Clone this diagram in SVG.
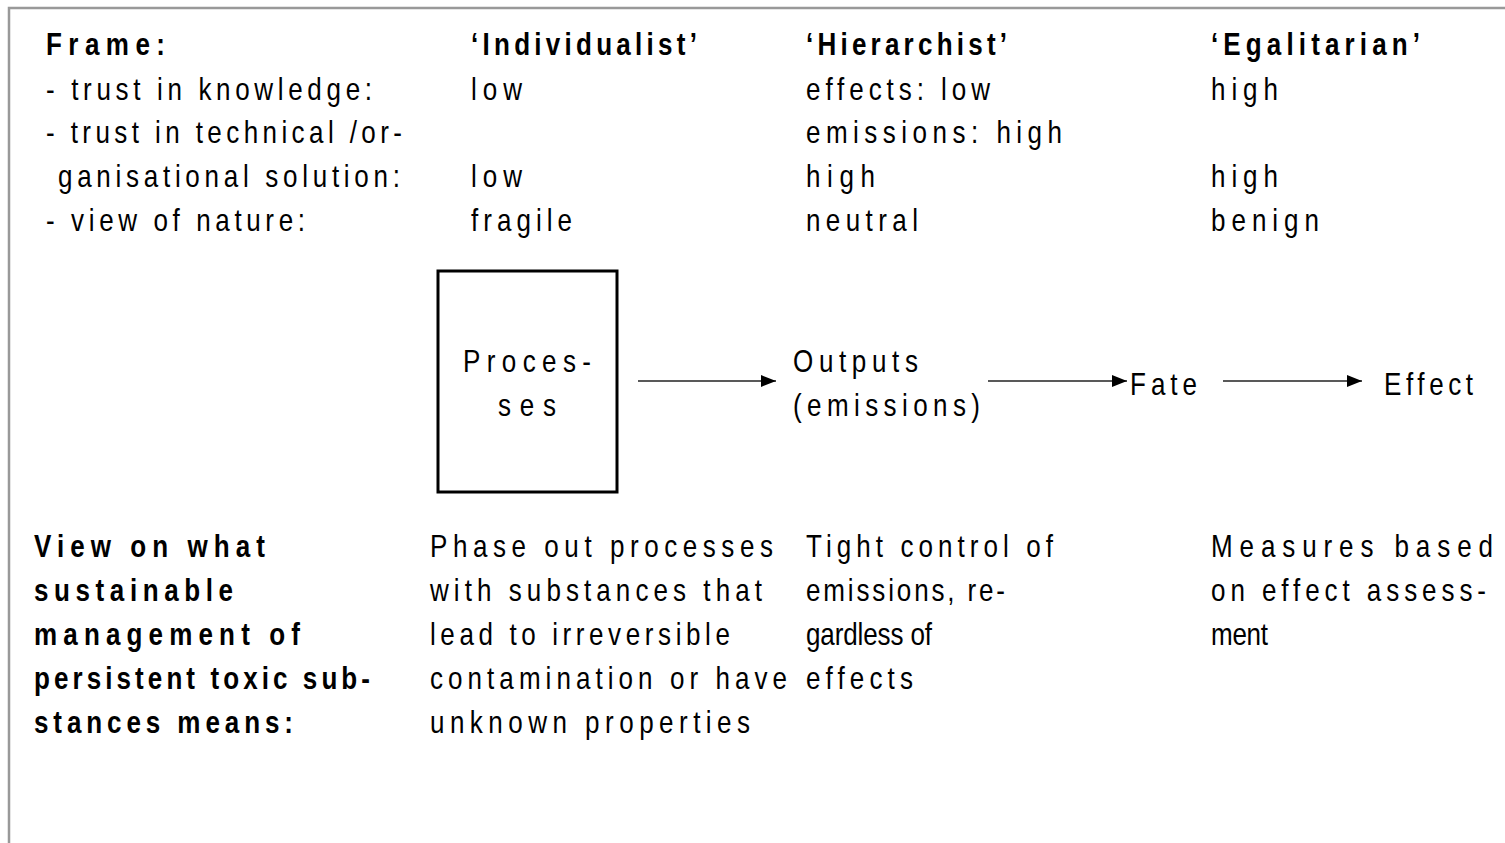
<svg xmlns="http://www.w3.org/2000/svg" width="1505" height="843" viewBox="0 0 1505 843">
<style>
text{font-family:"Liberation Sans",Arial,sans-serif;font-size:31px;fill:#000}
.b{font-weight:bold}
.conn line{stroke:#222;stroke-width:1.6}
</style>
<defs>
<marker id="ah" markerWidth="16" markerHeight="12" refX="15" refY="6" orient="auto" markerUnits="userSpaceOnUse">
<path d="M0,0 L15,6 L0,12 Z" fill="#000"/>
</marker>
</defs>
<rect width="1505" height="843" fill="#fff"/>
<path d="M9,843 V8 H1505" fill="none" stroke="#999" stroke-width="2.5"/>
<g id="frame-labels">
<g transform="translate(46,0) scale(0.84,1)">
<text class="b" x="0" y="55" textLength="141.7" lengthAdjust="spacing">Frame:</text>
<text x="0" y="100" textLength="388.1" lengthAdjust="spacing">- trust in knowledge:</text>
<text x="0" y="143" textLength="423.8" lengthAdjust="spacing">- trust in technical /or-</text>
<text x="0" y="231" textLength="308.3" lengthAdjust="spacing">- view of nature:</text>
</g>
<g transform="translate(58,0) scale(0.84,1)">
<text x="0" y="187" textLength="407.1" lengthAdjust="spacing">ganisational solution:</text>
</g>
</g>
<g id="col-individualist" transform="translate(471,0) scale(0.84,1)">
<text class="b" x="0" y="55" textLength="269" lengthAdjust="spacing">‘Individualist’</text>
<text x="0" y="100" textLength="60.7" lengthAdjust="spacing">low</text>
<text x="0" y="187" textLength="60.7" lengthAdjust="spacing">low</text>
<text x="0" y="231" textLength="120.2" lengthAdjust="spacing">fragile</text>
</g>
<g id="col-hierarchist" transform="translate(806,0) scale(0.84,1)">
<text class="b" x="0" y="55" textLength="239.3" lengthAdjust="spacing">‘Hierarchist’</text>
<text x="0" y="100" textLength="219" lengthAdjust="spacing">effects: low</text>
<text x="0" y="143" textLength="304.8" lengthAdjust="spacing">emissions: high</text>
<text x="0" y="187" textLength="82.1" lengthAdjust="spacing">high</text>
<text x="0" y="231" textLength="133.3" lengthAdjust="spacing">neutral</text>
</g>
<g id="col-egalitarian" transform="translate(1211,0) scale(0.84,1)">
<text class="b" x="0" y="55" textLength="248.8" lengthAdjust="spacing">‘Egalitarian’</text>
<text x="0" y="100" textLength="79.8" lengthAdjust="spacing">high</text>
<text x="0" y="187" textLength="79.8" lengthAdjust="spacing">high</text>
<text x="0" y="231" textLength="128.6" lengthAdjust="spacing">benign</text>
</g>
<g id="node-processes">
<rect x="438" y="271" width="179" height="221" fill="#fff" stroke="#000" stroke-width="3"/>
<text transform="translate(463,0) scale(0.84,1)" x="0" y="372" textLength="152.4" lengthAdjust="spacing">Proces-</text>
<text transform="translate(498,0) scale(0.84,1)" x="0" y="416" textLength="69" lengthAdjust="spacing">ses</text>
</g>
<g id="node-outputs" transform="translate(793,0) scale(0.84,1)">
<text x="0" y="372" textLength="148.8" lengthAdjust="spacing">Outputs</text>
<text x="0" y="416" textLength="222.6" lengthAdjust="spacing">(emissions)</text>
</g>
<g id="node-fate" transform="translate(1130,0) scale(0.84,1)">
<text x="0" y="395" textLength="79.8" lengthAdjust="spacing">Fate</text>
</g>
<g id="node-effect" transform="translate(1384,0) scale(0.84,1)">
<text x="0" y="395" textLength="106" lengthAdjust="spacing">Effect</text>
</g>
<g id="connectors" class="conn">
<line x1="638" y1="381" x2="776" y2="381" marker-end="url(#ah)"/>
<line x1="988" y1="381" x2="1127" y2="381" marker-end="url(#ah)"/>
<line x1="1223" y1="381" x2="1362" y2="381" marker-end="url(#ah)"/>
</g>
<g id="view-label" transform="translate(34,0) scale(0.84,1)">
<text class="b" x="0" y="557" textLength="275" lengthAdjust="spacing">View on what</text>
<text class="b" x="0" y="601" textLength="236.9" lengthAdjust="spacing">sustainable</text>
<text class="b" x="0" y="645" textLength="316.7" lengthAdjust="spacing">management of</text>
<text class="b" x="0" y="689" textLength="400" lengthAdjust="spacing">persistent toxic sub-</text>
<text class="b" x="0" y="733" textLength="308.3" lengthAdjust="spacing">stances means:</text>
</g>
<g id="view-individualist" transform="translate(430,0) scale(0.84,1)">
<text x="0" y="557" textLength="408.3" lengthAdjust="spacing">Phase out processes</text>
<text x="0" y="601" textLength="395.2" lengthAdjust="spacing">with substances that</text>
<text x="0" y="645" textLength="357.1" lengthAdjust="spacing">lead to irreversible</text>
<text x="0" y="689" textLength="425" lengthAdjust="spacing">contamination or have</text>
<text x="0" y="733" textLength="381" lengthAdjust="spacing">unknown properties</text>
</g>
<g id="view-hierarchist" transform="translate(806,0) scale(0.84,1)">
<text x="0" y="557" textLength="294" lengthAdjust="spacing">Tight control of</text>
<text x="0" y="601" textLength="236.9" lengthAdjust="spacing">emissions, re-</text>
<text x="0" y="645" textLength="150" lengthAdjust="spacing">gardless of</text>
<text x="0" y="689" textLength="127.4" lengthAdjust="spacing">effects</text>
</g>
<g id="view-egalitarian" transform="translate(1211,0) scale(0.84,1)">
<text x="0" y="557" textLength="335.7" lengthAdjust="spacing">Measures  based</text>
<text x="0" y="601" textLength="327.4" lengthAdjust="spacing">on effect assess-</text>
<text x="0" y="645" textLength="67.9" lengthAdjust="spacing">ment</text>
</g>
</svg>
